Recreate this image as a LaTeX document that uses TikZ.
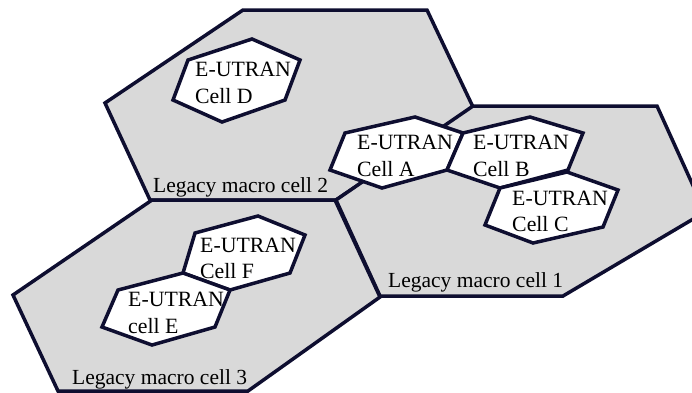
\documentclass[tikz,border=0pt]{standalone}
\usepackage{fontspec}
\setmainfont{Liberation Serif}
\definecolor{edge}{RGB}{14,14,48}
\definecolor{macrofill}{RGB}{217,217,217}
\begin{document}
\begin{tikzpicture}[x=1pt,y=-1pt,
  macro/.style={draw=edge, fill=macrofill, line width=3.5pt, line join=miter},
  small/.style={draw=edge, fill=white, line width=3.5pt, line join=miter},
  celltext/.style={font=\fontsize{21.8}{26.5}\selectfont, inner sep=0pt, align=left, anchor=west, text=black},
  macrotext/.style={font=\fontsize{21.5}{26}\selectfont, inner sep=0pt, anchor=base west, text=black}]
\useasboundingbox (0,0) rectangle (692,392);
% macro cells
\draw[macro] (105,103) -- (243,10) -- (427,10) -- (473,107) -- (336,200) -- (150,200) -- cycle;
\draw[macro] (336,200) -- (473,106) -- (657,106) -- (705,212) -- (563,296) -- (380,296) -- cycle;
\draw[macro] (13,295) -- (152,200) -- (335,200) -- (380,297) -- (248,391) -- (58,391) -- cycle;
% small cells
\draw[small] (173,100) -- (188,60) -- (252,39) -- (300,60) -- (285,100) -- (222,122) -- cycle;
\draw[small] (330,170) -- (345,133) -- (415,117) -- (463,133) -- (447,170) -- (382,188) -- cycle;
\draw[small] (447,170) -- (463,133) -- (530,117) -- (583,133) -- (568,170) -- (500,188) -- cycle;
\draw[small] (485,225) -- (500,188) -- (567,172) -- (618,190) -- (603,227) -- (533,243) -- cycle;
\draw[small] (183,273) -- (195,233) -- (258,216) -- (305,235) -- (290,273) -- (230,290) -- cycle;
\draw[small] (102,327) -- (118,290) -- (183,273) -- (230,290) -- (215,327) -- (152,345) -- cycle;
% texts
\node[celltext] (tD) at (195,83) {E-UTRAN\\Cell D};
\node[celltext] (tA) at (357,156) {E-UTRAN\\Cell A};
\node[celltext] (tB) at (473,156) {E-UTRAN\\Cell B};
\node[celltext] (tC) at (512,211.5) {E-UTRAN\\Cell C};
\node[celltext] (tF) at (200,258.5) {E-UTRAN\\Cell F};
\node[celltext] (tE) at (128,313) {E-UTRAN\\cell E};
\node[macrotext] (m2) at (153,192) {Legacy macro cell 2};
\node[macrotext] (m1) at (388,287) {Legacy macro cell 1};
\node[macrotext] (m3) at (72,384) {Legacy macro cell 3};
\end{tikzpicture}
\end{document}
